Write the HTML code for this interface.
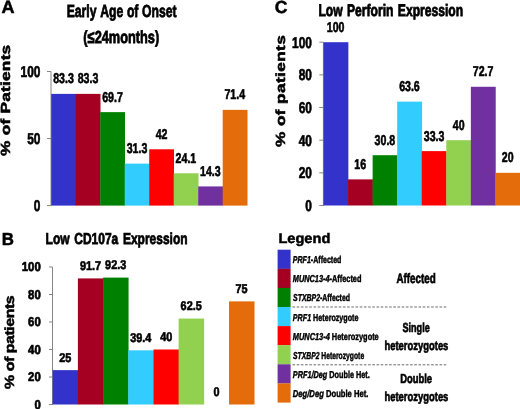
<!DOCTYPE html>
<html><head><meta charset="utf-8"><style>
html,body{margin:0;padding:0;background:#fff;width:520px;height:409px;overflow:hidden}
svg{display:block;will-change:transform;filter:blur(0.35px);font-family:"Liberation Sans",sans-serif;font-weight:bold;font-kerning:none;text-rendering:geometricPrecision}
</style></head><body>
<svg width="520" height="409" viewBox="0 0 520 409">
<rect width="520" height="409" fill="#fff"/>
<text transform="translate(1.45,12.60) scale(1.0171,1)" font-size="17.733" style="" fill="#000" stroke="#000" stroke-width="0.50">A</text>
<text transform="translate(66.68,17.30) scale(0.6989,1)" font-size="17.442" style="word-spacing:0.429px;" fill="#000" stroke="#000" stroke-width="0.80">Early Age of Onset</text>
<text transform="translate(83.36,42.80) scale(0.7326,1)" font-size="17.442" style="" fill="#000" stroke="#000" stroke-width="0.80">(≤24months)</text>
<text transform="translate(9.80,155.93) rotate(-90) scale(1.3000,1)" font-size="13.250" style="letter-spacing:0.191px;" fill="#000" stroke="#000" stroke-width="0.50">% of Patients</text>
<line x1="51.00" y1="71.50" x2="51.00" y2="206.10" stroke="#868686" stroke-width="1.00"/>
<line x1="47.00" y1="205.60" x2="51.00" y2="205.60" stroke="#868686" stroke-width="1.00"/>
<text transform="translate(33.85,211.00) scale(0.7600,1)" font-size="15.698" style="" fill="#000" stroke="#000" stroke-width="0.65">0</text>
<line x1="47.00" y1="138.55" x2="51.00" y2="138.55" stroke="#868686" stroke-width="1.00"/>
<text transform="translate(27.22,143.95) scale(0.7600,1)" font-size="15.698" style="" fill="#000" stroke="#000" stroke-width="0.65">50</text>
<line x1="47.00" y1="71.50" x2="51.00" y2="71.50" stroke="#868686" stroke-width="1.00"/>
<text transform="translate(20.58,76.90) scale(0.7600,1)" font-size="15.698" style="" fill="#000" stroke="#000" stroke-width="0.65">100</text>
<rect x="51.20" y="93.89" width="24.80" height="111.71" fill="#3333CC"/>
<text transform="translate(53.15,83.39) scale(0.7450,1)" font-size="14.244" style="" fill="#000" stroke="#000" stroke-width="0.60">83.3</text>
<rect x="75.70" y="93.89" width="24.80" height="111.71" fill="#A50021"/>
<text transform="translate(77.65,83.39) scale(0.7450,1)" font-size="14.244" style="" fill="#000" stroke="#000" stroke-width="0.60">83.3</text>
<rect x="100.20" y="112.13" width="24.80" height="93.47" fill="#008000"/>
<text transform="translate(102.16,101.63) scale(0.7450,1)" font-size="14.244" style="" fill="#000" stroke="#000" stroke-width="0.60">69.7</text>
<rect x="124.70" y="163.63" width="24.80" height="41.97" fill="#33CCFF"/>
<text transform="translate(126.69,153.13) scale(0.7450,1)" font-size="14.244" style="" fill="#000" stroke="#000" stroke-width="0.60">31.3</text>
<rect x="149.20" y="149.28" width="24.80" height="56.32" fill="#FF0000"/>
<text transform="translate(155.68,138.78) scale(0.7450,1)" font-size="14.244" style="" fill="#000" stroke="#000" stroke-width="0.60">42</text>
<rect x="173.70" y="173.28" width="24.80" height="32.32" fill="#92D050"/>
<text transform="translate(175.59,162.78) scale(0.7450,1)" font-size="14.244" style="" fill="#000" stroke="#000" stroke-width="0.60">24.1</text>
<rect x="198.20" y="186.42" width="24.80" height="19.18" fill="#7030A0"/>
<text transform="translate(199.98,175.92) scale(0.7450,1)" font-size="14.244" style="" fill="#000" stroke="#000" stroke-width="0.60">14.3</text>
<rect x="222.70" y="109.85" width="24.80" height="95.75" fill="#E46C0A"/>
<text transform="translate(224.42,99.35) scale(0.7450,1)" font-size="14.244" style="" fill="#000" stroke="#000" stroke-width="0.60">71.4</text>
<text transform="translate(274.78,12.80) scale(1.0084,1)" font-size="17.442" style="" fill="#000" stroke="#000" stroke-width="0.50">C</text>
<text transform="translate(318.39,15.60) scale(0.7255,1)" font-size="16.715" style="word-spacing:1.378px;" fill="#000" stroke="#000" stroke-width="0.80">Low Perforin Expression</text>
<text transform="translate(284.80,146.93) rotate(-90) scale(1.3000,1)" font-size="13.250" style="letter-spacing:0.286px;" fill="#000" stroke="#000" stroke-width="0.50">% of patients</text>
<line x1="323.40" y1="42.20" x2="323.40" y2="206.00" stroke="#868686" stroke-width="1.00"/>
<line x1="319.30" y1="205.50" x2="323.40" y2="205.50" stroke="#868686" stroke-width="1.00"/>
<text transform="translate(305.35,210.90) scale(0.7600,1)" font-size="15.698" style="" fill="#000" stroke="#000" stroke-width="0.65">0</text>
<line x1="319.30" y1="172.84" x2="323.40" y2="172.84" stroke="#868686" stroke-width="1.00"/>
<text transform="translate(298.72,178.24) scale(0.7600,1)" font-size="15.698" style="" fill="#000" stroke="#000" stroke-width="0.65">20</text>
<line x1="319.30" y1="140.18" x2="323.40" y2="140.18" stroke="#868686" stroke-width="1.00"/>
<text transform="translate(298.72,145.58) scale(0.7600,1)" font-size="15.698" style="" fill="#000" stroke="#000" stroke-width="0.65">40</text>
<line x1="319.30" y1="107.52" x2="323.40" y2="107.52" stroke="#868686" stroke-width="1.00"/>
<text transform="translate(298.72,112.92) scale(0.7600,1)" font-size="15.698" style="" fill="#000" stroke="#000" stroke-width="0.65">60</text>
<line x1="319.30" y1="74.86" x2="323.40" y2="74.86" stroke="#868686" stroke-width="1.00"/>
<text transform="translate(298.72,80.26) scale(0.7600,1)" font-size="15.698" style="" fill="#000" stroke="#000" stroke-width="0.65">80</text>
<line x1="319.30" y1="42.20" x2="323.40" y2="42.20" stroke="#868686" stroke-width="1.00"/>
<text transform="translate(292.08,47.60) scale(0.7600,1)" font-size="15.698" style="" fill="#000" stroke="#000" stroke-width="0.65">100</text>
<rect x="323.50" y="42.20" width="24.86" height="163.30" fill="#3333CC"/>
<text transform="translate(326.81,31.80) scale(0.7450,1)" font-size="14.244" style="" fill="#000" stroke="#000" stroke-width="0.60">100</text>
<rect x="348.06" y="179.37" width="24.86" height="26.13" fill="#A50021"/>
<text transform="translate(354.30,168.97) scale(0.7450,1)" font-size="14.244" style="" fill="#000" stroke="#000" stroke-width="0.60">16</text>
<rect x="372.62" y="155.20" width="24.86" height="50.30" fill="#008000"/>
<text transform="translate(374.61,144.80) scale(0.7450,1)" font-size="14.244" style="" fill="#000" stroke="#000" stroke-width="0.60">30.8</text>
<rect x="397.18" y="101.64" width="24.86" height="103.86" fill="#33CCFF"/>
<text transform="translate(399.13,91.24) scale(0.7450,1)" font-size="14.244" style="" fill="#000" stroke="#000" stroke-width="0.60">63.6</text>
<rect x="421.74" y="151.12" width="24.86" height="54.38" fill="#FF0000"/>
<text transform="translate(423.76,140.72) scale(0.7450,1)" font-size="14.244" style="" fill="#000" stroke="#000" stroke-width="0.60">33.3</text>
<rect x="446.30" y="140.18" width="24.86" height="65.32" fill="#92D050"/>
<text transform="translate(452.82,129.78) scale(0.7450,1)" font-size="14.244" style="" fill="#000" stroke="#000" stroke-width="0.60">40</text>
<rect x="470.86" y="86.78" width="24.86" height="118.72" fill="#7030A0"/>
<text transform="translate(472.82,76.38) scale(0.7450,1)" font-size="14.244" style="" fill="#000" stroke="#000" stroke-width="0.60">72.7</text>
<rect x="495.42" y="172.84" width="24.86" height="32.66" fill="#E46C0A"/>
<text transform="translate(501.83,162.44) scale(0.7450,1)" font-size="14.244" style="" fill="#000" stroke="#000" stroke-width="0.60">20</text>
<text transform="translate(1.87,244.50) scale(0.9683,1)" font-size="17.442" style="" fill="#000" stroke="#000" stroke-width="0.50">B</text>
<text transform="translate(45.60,244.40) scale(0.7583,1)" font-size="15.843" style="word-spacing:1.714px;" fill="#000" stroke="#000" stroke-width="0.75">Low CD107a Expression</text>
<text transform="translate(13.90,389.00) rotate(-90) scale(1.2000,1)" font-size="13.250" style="letter-spacing:-0.367px;" fill="#000" stroke="#000" stroke-width="0.50">% of patients</text>
<line x1="52.50" y1="267.00" x2="52.50" y2="405.00" stroke="#868686" stroke-width="1.00"/>
<line x1="49.00" y1="404.50" x2="52.50" y2="404.50" stroke="#868686" stroke-width="1.00"/>
<text transform="translate(34.44,408.95) scale(0.8800,1)" font-size="12.936" style="" fill="#000" stroke="#000" stroke-width="0.65">0</text>
<line x1="49.00" y1="377.00" x2="52.50" y2="377.00" stroke="#868686" stroke-width="1.00"/>
<text transform="translate(28.10,381.45) scale(0.8800,1)" font-size="12.936" style="" fill="#000" stroke="#000" stroke-width="0.65">20</text>
<line x1="49.00" y1="349.50" x2="52.50" y2="349.50" stroke="#868686" stroke-width="1.00"/>
<text transform="translate(28.10,353.95) scale(0.8800,1)" font-size="12.936" style="" fill="#000" stroke="#000" stroke-width="0.65">40</text>
<line x1="49.00" y1="322.00" x2="52.50" y2="322.00" stroke="#868686" stroke-width="1.00"/>
<text transform="translate(28.10,326.45) scale(0.8800,1)" font-size="12.936" style="" fill="#000" stroke="#000" stroke-width="0.65">60</text>
<line x1="49.00" y1="294.50" x2="52.50" y2="294.50" stroke="#868686" stroke-width="1.00"/>
<text transform="translate(28.10,298.95) scale(0.8800,1)" font-size="12.936" style="" fill="#000" stroke="#000" stroke-width="0.65">80</text>
<line x1="49.00" y1="267.00" x2="52.50" y2="267.00" stroke="#868686" stroke-width="1.00"/>
<text transform="translate(21.77,271.45) scale(0.8800,1)" font-size="12.936" style="" fill="#000" stroke="#000" stroke-width="0.65">100</text>
<rect x="52.70" y="370.12" width="25.49" height="34.38" fill="#3333CC"/>
<text transform="translate(59.21,361.52) scale(0.8600,1)" font-size="12.646" style="" fill="#000" stroke="#000" stroke-width="0.60">25</text>
<rect x="77.89" y="278.41" width="25.49" height="126.09" fill="#A50021"/>
<text transform="translate(79.95,269.81) scale(0.8600,1)" font-size="12.646" style="" fill="#000" stroke="#000" stroke-width="0.60">91.7</text>
<rect x="103.08" y="277.59" width="25.49" height="126.91" fill="#008000"/>
<text transform="translate(105.10,268.99) scale(0.8600,1)" font-size="12.646" style="" fill="#000" stroke="#000" stroke-width="0.60">92.3</text>
<rect x="128.27" y="350.32" width="25.49" height="54.18" fill="#33CCFF"/>
<text transform="translate(130.19,341.72) scale(0.8600,1)" font-size="12.646" style="" fill="#000" stroke="#000" stroke-width="0.60">39.4</text>
<rect x="153.46" y="349.50" width="25.49" height="55.00" fill="#FF0000"/>
<text transform="translate(160.15,340.90) scale(0.8600,1)" font-size="12.646" style="" fill="#000" stroke="#000" stroke-width="0.60">40</text>
<rect x="178.65" y="318.56" width="25.49" height="85.94" fill="#92D050"/>
<text transform="translate(180.61,309.96) scale(0.8600,1)" font-size="12.646" style="" fill="#000" stroke="#000" stroke-width="0.60">62.5</text>
<rect x="203.84" y="404.50" width="25.49" height="0.00" fill="#7030A0"/>
<text transform="translate(213.42,395.90) scale(0.8600,1)" font-size="12.646" style="" fill="#000" stroke="#000" stroke-width="0.60">0</text>
<rect x="229.03" y="301.38" width="25.49" height="103.12" fill="#E46C0A"/>
<text transform="translate(235.49,292.77) scale(0.8600,1)" font-size="12.646" style="" fill="#000" stroke="#000" stroke-width="0.60">75</text>
<text transform="translate(278.42,243.40) scale(1.0469,1)" font-size="13.954" style="" fill="#000" stroke="#000" stroke-width="0.50">Legend</text>
<rect x="277.60" y="249.70" width="13.00" height="19.20" fill="#3333CC"/>
<text transform="translate(292.83,263.20) scale(0.7039,1)" font-size="10.029" style="" fill="#000" stroke="#000" stroke-width="0.45"><tspan font-style="italic">PRF1</tspan><tspan>-Affected</tspan></text>
<rect x="277.60" y="268.80" width="13.00" height="19.20" fill="#A50021"/>
<text transform="translate(292.81,282.30) scale(0.7336,1)" font-size="10.029" style="" fill="#000" stroke="#000" stroke-width="0.45"><tspan font-style="italic">MUNC13-4</tspan><tspan>-Affected</tspan></text>
<rect x="277.60" y="287.90" width="13.00" height="19.20" fill="#008000"/>
<text transform="translate(293.10,301.40) scale(0.6906,1)" font-size="10.029" style="" fill="#000" stroke="#000" stroke-width="0.45"><tspan font-style="italic">STXBP2</tspan><tspan>-Affected</tspan></text>
<rect x="277.60" y="307.00" width="13.00" height="19.20" fill="#33CCFF"/>
<text transform="translate(292.82,320.50) scale(0.7148,1)" font-size="10.029" style="" fill="#000" stroke="#000" stroke-width="0.45"><tspan font-style="italic">PRF1</tspan><tspan> Heterozygote</tspan></text>
<rect x="277.60" y="326.10" width="13.00" height="19.20" fill="#FF0000"/>
<text transform="translate(292.80,339.60) scale(0.7388,1)" font-size="10.029" style="" fill="#000" stroke="#000" stroke-width="0.45"><tspan font-style="italic">MUNC13-4</tspan><tspan> Heterozygote</tspan></text>
<rect x="277.60" y="345.20" width="13.00" height="19.20" fill="#92D050"/>
<text transform="translate(293.10,358.70) scale(0.6753,1)" font-size="10.029" style="" fill="#000" stroke="#000" stroke-width="0.45"><tspan font-style="italic">STXBP2</tspan><tspan> Heterozygote</tspan></text>
<rect x="277.60" y="364.30" width="13.00" height="19.20" fill="#7030A0"/>
<text transform="translate(292.81,377.80) scale(0.7281,1)" font-size="10.029" style="" fill="#000" stroke="#000" stroke-width="0.45"><tspan font-style="italic">PRF1/Deg</tspan><tspan> Double Het.</tspan></text>
<rect x="277.60" y="383.40" width="13.00" height="19.20" fill="#E46C0A"/>
<text transform="translate(292.79,396.90) scale(0.7636,1)" font-size="10.029" style="" fill="#000" stroke="#000" stroke-width="0.45"><tspan font-style="italic">Deg/Deg</tspan><tspan> Double Het.</tspan></text>
<line x1="292.50" y1="307.00" x2="447.50" y2="307.00" stroke="#6a6a6a" stroke-width="1.00" stroke-dasharray="2.6,1.6"/>
<line x1="292.50" y1="364.80" x2="447.50" y2="364.80" stroke="#6a6a6a" stroke-width="1.00" stroke-dasharray="2.6,1.6"/>
<text transform="translate(396.45,283.00) scale(0.7131,1)" font-size="13.808" style="" fill="#000" stroke="#000" stroke-width="0.65">Affected</text>
<text transform="translate(402.54,331.80) scale(0.6922,1)" font-size="13.082" style="" fill="#000" stroke="#000" stroke-width="0.65">Single</text>
<text transform="translate(384.44,350.00) scale(0.7210,1)" font-size="13.082" style="" fill="#000" stroke="#000" stroke-width="0.65">heterozygotes</text>
<text transform="translate(400.17,382.60) scale(0.7208,1)" font-size="13.082" style="" fill="#000" stroke="#000" stroke-width="0.65">Double</text>
<text transform="translate(384.44,400.80) scale(0.7210,1)" font-size="13.082" style="" fill="#000" stroke="#000" stroke-width="0.65">heterozygotes</text>
</svg></body></html>
